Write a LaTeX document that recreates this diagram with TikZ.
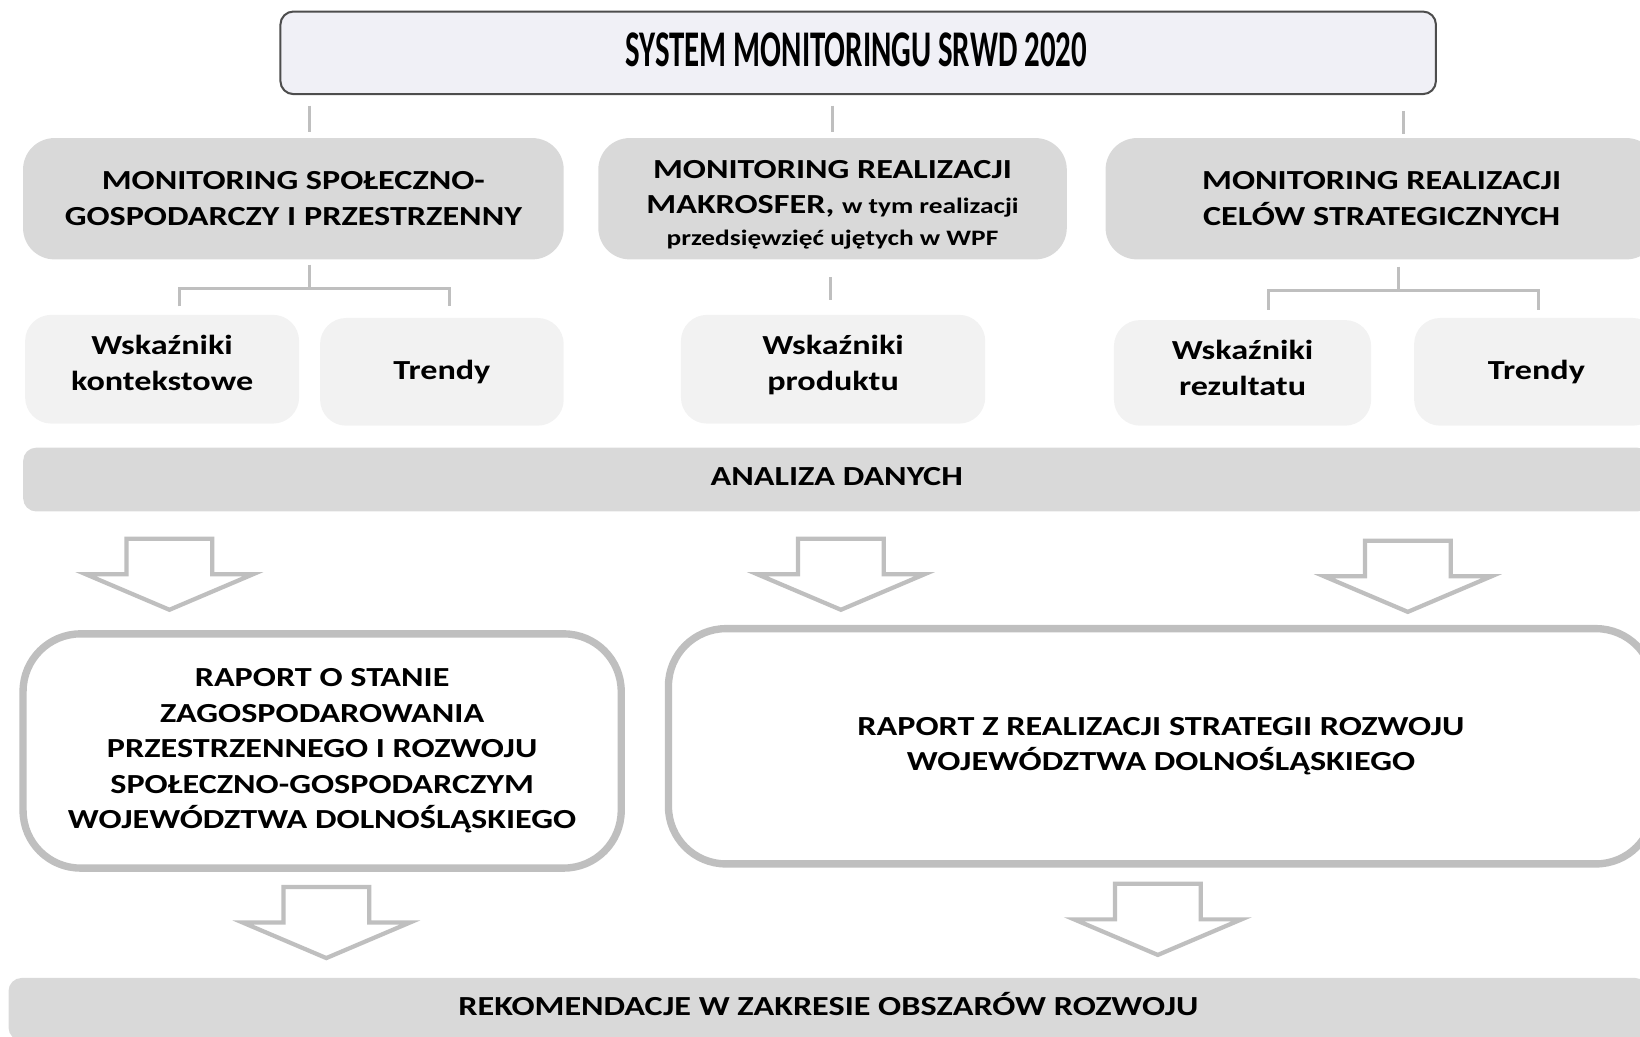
\documentclass[tikz,border=0pt]{standalone}
\usepackage{fontspec}
\setmainfont{Carlito}[FakeStretch=1.24]
\newfontfamily\titlefont{Carlito}[FakeStretch=0.6]
\usetikzlibrary{positioning}

\definecolor{boxGray}{HTML}{D9D9D9}
\definecolor{paleGray}{HTML}{F2F2F2}
\definecolor{lineGray}{HTML}{BFBFBF}
\definecolor{titleFill}{HTML}{F0F0F6}
\definecolor{titleLine}{HTML}{4D4D4D}

\tikzset{
  every node/.style={font=\bfseries\fontsize{15}{19.3}\selectfont, align=center, inner sep=0pt},
  titlebox/.style={draw=titleLine, line width=1.1pt, fill=titleFill, rounded corners=0.25cm},
  groupbox/.style={fill=boxGray, rounded corners=0.6cm, minimum height=2.32cm},
  itembox/.style={fill=paleGray, rounded corners=0.5cm, minimum height=2.06cm},
  bar/.style={fill=boxGray, rounded corners=0.25cm},
  report/.style={draw=lineGray, line width=4pt, fill=white, rounded corners=1.1cm},
  link/.style={draw=lineGray, line width=1.7pt},
  pics/downarrow/.style={code={
    \draw[draw=lineGray, line width=2.3pt, fill=white]
      (-41,0) -- (41,0) -- (41,34) -- (80,34) -- (0,68) -- (-80,34) -- (-41,34) -- cycle;
  }}
}

\begin{document}
\begin{tikzpicture}[x=0.02cm, y=-0.02cm]
  \clip (0,0) rectangle (1568,991);

  % top
  \node[titlebox, minimum width=22.1cm, minimum height=1.58cm] (sys) at (820.5,50.5) {};
  \node at ([xshift=-1pt, yshift=1.7pt]sys.center)
    {\titlefont\fontsize{28}{30}\selectfont SYSTEM MONITORINGU SRWD 2020};

  % monitoring areas
  \node[groupbox, minimum width=10.34cm] (mspg) at (280.5,190)
    {MONITORING SPOŁECZNO-\\GOSPODARCZY I PRZESTRZENNY};
  \node[groupbox, minimum width=8.96cm] (mmak) at (796,190) {};
  \node at ([yshift=-3.4pt]mmak.center)
    {MONITORING REALIZACJI\\MAKROSFER, {\fontsize{12}{15}\selectfont w tym realizacji}\\[-2pt]
     {\fontsize{12}{15}\selectfont przedsięwzięć ujętych w WPF}};
  \node[groupbox, minimum width=10.56cm] (mcel) at (1321,190)
    {MONITORING REALIZACJI\\CELÓW STRATEGICZNYCH};

  % indicators
  \node[itembox, minimum width=5.24cm, minimum height=2.08cm] (wkon) at (155,353) {};
  \node at ([yshift=3.4pt]wkon.center) {Wskaźniki\\kontekstowe};
  \node[itembox, minimum width=4.66cm] (trA) at (422.5,355.5) {Trendy};
  \node[itembox, minimum width=5.82cm, minimum height=2.08cm] (wpro) at (796.5,353) {};
  \node at ([yshift=2.3pt]wpro.center) {Wskaźniki\\produktu};
  \node[itembox, minimum width=4.92cm, minimum height=2.02cm] (wrez) at (1188,356.5) {};
  \node at ([yshift=2.8pt]wrez.center) {Wskaźniki\\rezultatu};
  \node[itembox, minimum width=4.68cm] (trC) at (1469,355.5) {Trendy};

  \node[bar, minimum width=31.12cm, minimum height=1.22cm] (anal) at (800,458.5) {};
  \node at ([yshift=1.7pt]anal.center) {ANALIZA DANYCH};

  % reports
  \node[report, minimum width=11.44cm, minimum height=4.48cm] (rpzp) at (308,718)
    {RAPORT O STANIE\\ZAGOSPODAROWANIA\\PRZESTRZENNEGO I ROZWOJU\\SPOŁECZNO-GOSPODARCZYM\\WOJEWÓDZTWA DOLNOŚLĄSKIEGO};
  \node[report, minimum width=18.84cm, minimum height=4.5cm] (rpsr) at (1110,713.5)
    {RAPORT Z REALIZACJI STRATEGII ROZWOJU\\WOJEWÓDZTWA DOLNOŚLĄSKIEGO};

  \node[bar, minimum width=31.36cm, minimum height=1.2cm] (reko) at (792,965) {};
  \node at ([yshift=2.8pt]reko.center) {REKOMENDACJE W ZAKRESIE OBSZARÓW ROZWOJU};

  % connectors
  \coordinate (tA1) at (296,101);  \coordinate (tA2) at (296,126);
  \coordinate (tB1) at (796,101);  \coordinate (tB2) at (796,126);
  \coordinate (tC1) at (1342,106); \coordinate (tC2) at (1342,128);
  \draw[link] (tA1) -- (tA2);
  \draw[link] (tB1) -- (tB2);
  \draw[link] (tC1) -- (tC2);

  \coordinate (jA) at (296,276);
  \coordinate (sA) at (296,253);
  \coordinate (dA1) at (172,293);
  \coordinate (dA2) at (430,293);
  \draw[link] (sA) -- (jA);
  \draw[link] (dA1) |- (jA) -| (dA2);

  \coordinate (sB) at (794,265); \coordinate (eB) at (794,287);
  \draw[link] (sB) -- (eB);

  \coordinate (jC) at (1337,278);
  \coordinate (sC) at (1337,255);
  \coordinate (dC1) at (1213,296);
  \coordinate (dC2) at (1471,296);
  \draw[link] (sC) -- (jC);
  \draw[link] (dC1) |- (jC) -| (dC2);

  % block arrows
  \pic at (162,515) {downarrow};
  \pic at (804,515) {downarrow};
  \pic at (1346,517) {downarrow};
  \pic at (312,848) {downarrow};
  \pic at (1107,845) {downarrow};
\end{tikzpicture}
\end{document}
